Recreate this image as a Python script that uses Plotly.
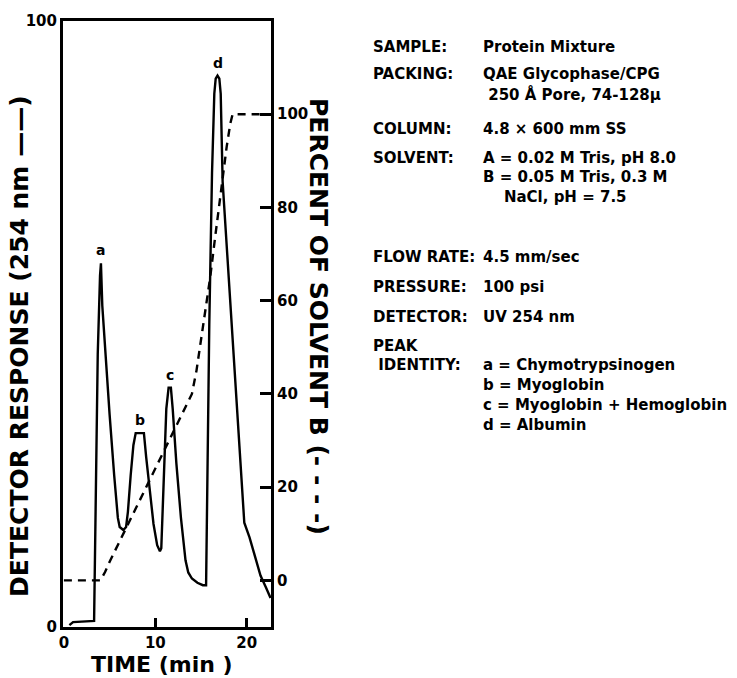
import plotly.graph_objects as go

# Detector response (254 nm), solid trace
det_time = [0.6, 1.0, 3.3, 3.45, 3.7, 3.95, 4.05, 4.2, 4.6, 5.0, 5.5, 5.9, 6.1, 6.5, 6.8,
            7.0, 7.3, 7.6, 7.85, 8.75, 9.0, 9.4, 9.8, 10.2, 10.5, 10.65, 10.9, 11.2, 11.45,
            11.7, 11.9, 12.3, 12.8, 13.3, 13.6, 14.0, 14.6, 15.2, 15.55, 15.7, 15.9, 16.2,
            16.45, 16.6, 16.8, 17.0, 17.15, 17.36, 18.0, 18.75, 19.3, 19.73, 20.3, 20.8,
            21.5, 22.1, 22.6]
det_resp = [0.3, 0.8, 1.0, 20, 45, 58, 60, 53, 43, 35, 25, 18, 16.5, 16.0, 16.5,
            19, 25, 30, 32, 32, 28, 22, 17, 13.5, 12.5, 13, 25, 36, 39.5,
            39.5, 36, 27, 18, 11, 9, 8, 7.3, 6.9, 6.9, 25, 50, 75,
            88, 90.5, 91, 90.5, 88, 73.5, 58, 40.4, 27.5, 17.2, 14.8, 12,
            8.5, 6.5, 4.8]

# Percent of solvent B, dashed trace
grad_time = [0.0, 4.0, 4.5, 5.0, 6.0, 8.0, 10.0, 12.0, 14.0, 14.5, 15.0, 15.5, 16.0,
             16.5, 17.0, 17.4, 17.8, 18.2, 18.45, 22.6]
grad_pct = [0, 0, 1.8, 4, 8, 16, 24, 32, 40, 45, 51.5, 58, 65,
            73, 81, 87, 93, 98, 100, 100]

peak_labels = ["a", "b", "c", "d"]
peak_time = [3.95, 8.3, 11.55, 16.8]
peak_resp = [60, 32, 39.5, 91]

x_ticks = [0, 10, 20]
y_ticks = [0, 100]
y2_ticks = [0, 20, 40, 60, 80, 100]

info_labels = ["SAMPLE:", "PACKING:", "", "COLUMN:", "SOLVENT:", "", "",
               "FLOW RATE:", "PRESSURE:", "DETECTOR:", "PEAK", "&nbsp;IDENTITY:", "", "", ""]
info_values = ["Protein Mixture", "QAE Glycophase/CPG", "&nbsp;250 Å Pore, 74-128μ",
               "4.8 × 600 mm SS", "A = 0.02 M Tris, pH 8.0", "B = 0.05 M Tris, 0.3 M",
               "&nbsp;&nbsp;&nbsp;&nbsp;NaCl, pH = 7.5", "4.5 mm/sec", "100 psi", "UV 254 nm", "",
               "a = Chymotrypsinogen", "b = Myoglobin", "c = Myoglobin + Hemoglobin",
               "d = Albumin"]
info_rows_px = [45, 72, 93, 127, 156, 176, 196, 256, 286, 316, 345, 364, 384, 404, 424]

FONT = "DejaVu Sans"
BLK = "black"

# plot area in pixels
L, R, T, B = 63, 271, 19, 627
W, H = 737, 678


def px2paper(px, py):
    return (px - L) / (R - L), (B - py) / (B - T)


fig = go.Figure()
fig.add_trace(go.Scatter(x=det_time, y=det_resp, mode="lines",
                         line=dict(color=BLK, width=2.4), showlegend=False))
fig.add_trace(go.Scatter(x=grad_time, y=grad_pct, mode="lines", yaxis="y2",
                         line=dict(color=BLK, width=2.4, dash="8px,6px"), showlegend=False))

annotations = []
for lab, t, v in zip(peak_labels, peak_time, peak_resp):
    annotations.append(dict(x=t, y=v, text=lab, showarrow=False, yanchor="bottom",
                            yshift=3, font=dict(family=FONT, size=14, color=BLK, weight=700)))

for lab, val, py in zip(info_labels, info_values, info_rows_px):
    if lab:
        x0, y0 = px2paper(371, py)
        annotations.append(dict(xref="paper", yref="paper", x=x0, y=y0, text=lab,
                                showarrow=False, xanchor="left", yanchor="middle",
                                font=dict(family=FONT, size=15, color=BLK, weight=700)))
    if val:
        x0, y0 = px2paper(481, py)
        annotations.append(dict(xref="paper", yref="paper", x=x0, y=y0, text=val,
                                showarrow=False, xanchor="left", yanchor="middle",
                                font=dict(family=FONT, size=15, color=BLK, weight=700)))

# axis titles
tx, ty = px2paper(20, 346)
annotations.append(dict(xref="paper", yref="paper", x=tx, y=ty, textangle=-90,
                        xanchor="center", yanchor="middle",
                        text="DETECTOR RESPONSE (254 nm ——)", showarrow=False,
                        font=dict(family=FONT, size=25, color=BLK, weight=700)))
tx, ty = px2paper(319, 315)
annotations.append(dict(xref="paper", yref="paper", x=tx, y=ty, textangle=90,
                        xanchor="center", yanchor="middle",
                        text="PERCENT OF SOLVENT B (- - - -)", showarrow=False,
                        font=dict(family=FONT, size=25, color=BLK, weight=700)))
tx, ty = px2paper(162, 665)
annotations.append(dict(xref="paper", yref="paper", x=tx, y=ty,
                        xanchor="center", yanchor="middle",
                        text="TIME (min )", showarrow=False,
                        font=dict(family=FONT, size=22, color=BLK, weight=700)))

tickfont = dict(family=FONT, size=15, color=BLK, weight=700)

fig.update_layout(
    width=W, height=H,
    margin=dict(l=L, r=W - R, t=T, b=H - B),
    paper_bgcolor="white", plot_bgcolor="white",
    showlegend=False,
    xaxis=dict(range=[-0.1, 22.65], tickvals=x_ticks, ticks="inside", ticklen=9,
               tickwidth=2.5, tickcolor=BLK, showline=True, linecolor=BLK, linewidth=3,
               mirror=True, showgrid=False, zeroline=False, tickfont=tickfont),
    yaxis=dict(range=[0, 100], tickvals=y_ticks, ticks="", showline=True, linecolor=BLK,
               linewidth=3, showgrid=False, zeroline=False, tickfont=tickfont),
    yaxis2=dict(range=[-10, 120], tickvals=y2_ticks, overlaying="y", side="right",
                ticks="inside", ticklen=11, tickwidth=2.5, tickcolor=BLK, showline=True,
                linecolor=BLK, linewidth=3, showgrid=False, zeroline=False,
                tickfont=tickfont),
    annotations=annotations,
)

fig.write_html("out.html")
